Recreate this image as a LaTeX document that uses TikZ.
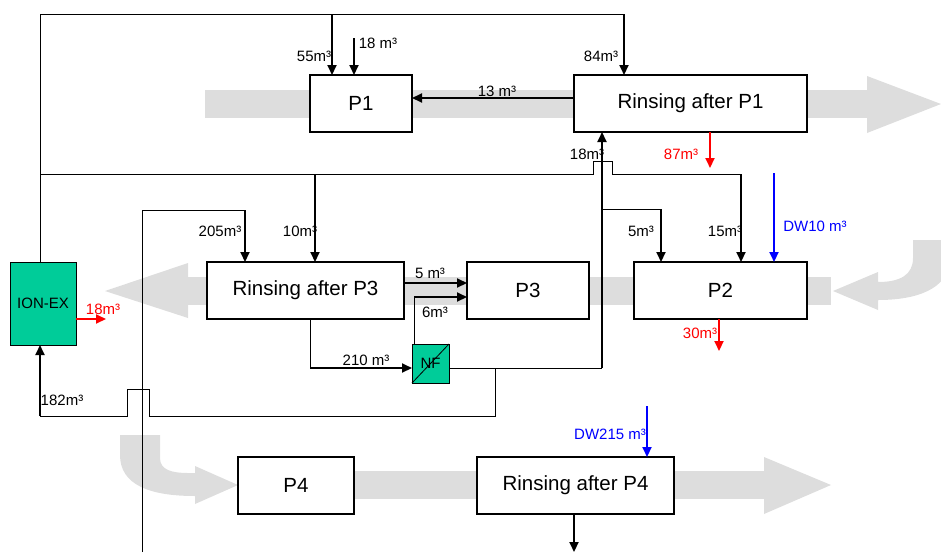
\documentclass[tikz,border=0pt]{standalone}
\usepackage{fontspec}
\setmainfont{Liberation Sans}
\usetikzlibrary{arrows.meta}
\definecolor{band}{RGB}{221,221,221}
\definecolor{unitfill}{RGB}{0,204,153}
\definecolor{dwblue}{RGB}{0,0,255}
\definecolor{outred}{RGB}{255,0,0}
\begin{document}
\begin{tikzpicture}[x=1pt,y=-1pt,
 box/.style={draw,line width=2pt,fill=white,inner sep=0pt,outer sep=0pt,font=\fontsize{20.5}{24}\selectfont},
 unit/.style={draw,line width=1pt,fill=unitfill,inner sep=0pt,outer sep=0pt,font=\fontsize{15}{18}\selectfont},
 route/.style={line width=1pt},
 arr/.style={line width=2pt,-{Triangle[length=10pt,width=9pt]}},
 lbl/.style={font=\fontsize{15}{17}\selectfont,inner sep=0pt}]
\useasboundingbox (0,0) rectangle (941,552);
\begin{scope}
\clip (0,0) rectangle (941,552);
% grey process bands
\fill[band] (205,90) rectangle (867,118);
\fill[band] (867,76) -- (941,104) -- (867,133) -- cycle;
\fill[band] (188,277) rectangle (831,305);
\fill[band] (188,263) -- (105,291) -- (188,318) -- cycle;
\fill[band] (913,240) -- (913,258) .. controls (913,275) and (900,282) .. (878,282) -- (878,272) -- (833,291) -- (878,310) -- (878,300) .. controls (915,300) and (948,290) .. (950,260) -- (950,240) -- cycle;
\fill[band] (354,471) rectangle (764,499);
\fill[band] (764,457) -- (831,485) -- (764,514) -- cycle;
\fill[band] (120,435) -- (160,435) -- (160,458) .. controls (160,470) and (172,473) .. (188,473) -- (195,473) -- (195,466) -- (238,485) -- (195,504) -- (195,496) .. controls (150,496) and (120,485) .. (120,455) -- cycle;
\end{scope}
% boxes
\node[box,minimum width=102pt,minimum height=57pt] (p1) at (361,103.5) {P1};
\node[box,minimum width=233pt,minimum height=57pt] (r1) at (690.5,103.5) {Rinsing after P1};
\node[box,minimum width=197pt,minimum height=57pt] (r3) at (305.5,290.5) {Rinsing after P3};
\node[box,minimum width=122pt,minimum height=57pt] (p3) at (528,290.5) {P3};
\node[box,minimum width=173pt,minimum height=57pt] (p2) at (720.5,290.5) {P2};
\node[box,minimum width=116pt,minimum height=57pt] (p4) at (296,485.5) {P4};
\node[box,minimum width=197pt,minimum height=57pt] (r4) at (575.5,485.5) {Rinsing after P4};
\node[unit,minimum width=66pt,minimum height=83pt] (ion) at (43,303.5) {ION-EX};
\node[unit,minimum width=37pt,minimum height=39pt] (nf) at (430.5,363.5) {NF};
\draw[line width=0.8pt] (nf.south west) -- (nf.north east);
% top frame
\coordinate (TL) at (40,14);
\coordinate (TR) at (624,14);
\coordinate (T55) at (332,14);
\coordinate (S18) at (354,38);
\draw[route] ([xshift=-3pt]ion.north) -- (TL) -- (TR);
\draw[arr] (TR) -- (TR |- r1.north);
\draw[arr] (T55) -- (T55 |- p1.north);
\draw[arr] (S18) -- (S18 |- p1.north);
\draw[arr] ([yshift=5.5pt]r1.west) -- ([yshift=5.5pt]p1.east);
\draw[arr,outred] ([xshift=19.5pt]r1.south) -- ++(0,36);
% middle line
\coordinate (ML) at (40,174);
\coordinate (M10) at (315,174);
\coordinate (M15) at (741,174);
\draw[route] (ML) -- (593,174) -- (593,161) -- (612,161) -- (612,174) -- (M15);
\draw[arr] (M10) -- (M10 |- r3.north);
\draw[arr] (M15) -- (M15 |- p2.north);
% NF permeate riser
\coordinate (NFo) at (602,368);
\coordinate (B5) at (602,209);
\coordinate (B5r) at (661,209);
\draw[route] ([yshift=-4.5pt]nf.east) -- (NFo);
\draw[arr] (NFo) -- (NFo |- r1.south);
\draw[route] (B5) -- (B5r);
\draw[arr] (B5r) -- (B5r |- p2.north);
% return to ION-EX
\coordinate (BR) at (495,368);
\coordinate (BL) at (40,416);
\draw[route] (BR) -- (495,416) -- (149,416) -- (149,389) -- (127,389) -- (127,416) -- (BL);
\draw[arr] (BL) -- (BL |- ion.south);
% long left riser
\coordinate (V0) at (142,552);
\coordinate (V1) at (142,210);
\coordinate (V2) at (245,210);
\draw[route] (V0) -- (V1) -- (V2);
\draw[arr] (V2) -- (V2 |- r3.north);
% P3 area
\coordinate (C210) at (310,368);
\draw[route] ([xshift=4.5pt]r3.south) -- (C210);
\draw[arr] (C210) -- ([yshift=-4.5pt]nf.west);
\draw[arr] ([yshift=7.5pt]r3.east) -- ([yshift=7.5pt]p3.west);
\coordinate (C6) at (414,297);
\draw[route] ([xshift=-16.5pt]nf.north) -- (C6);
\draw[arr] (C6) -- ([yshift=-6.5pt]p3.west);
% P2 in/out
\coordinate (DW10) at (774,173);
\draw[arr,dwblue] (DW10) -- (DW10 |- p2.north);
\draw[arr,outred] ([xshift=-1.5pt]p2.south) -- ++(0,32);
\draw[arr,outred] ([yshift=-15.5pt]ion.east) -- ++(30,0);
% P4 row
\coordinate (DW215) at (647,406);
\draw[arr,dwblue] (DW215) -- (DW215 |- r4.north);
\draw[arr] ([xshift=-1.5pt]r4.south) -- ++(0,38);
% labels
\node[lbl] (l55) at (314,56) {55m³};
\node[lbl] (l18a) at (378,43) {18 m³};
\node[lbl] (l84) at (601,56) {84m³};
\node[lbl] (l13) at (497,91) {13 m³};
\node[lbl,text=outred] (l87) at (681,154) {87m³};
\node[lbl] (l18b) at (587,154) {18m³};
\node[lbl] (l205) at (220,231) {205m³};
\node[lbl] (l10) at (300,231) {10m³};
\node[lbl] (l5a) at (430,273) {5 m³};
\node[lbl] (l6) at (435,312) {6m³};
\node[lbl] (l210) at (366,360) {210 m³};
\node[lbl,text=outred] (l18c) at (103,309) {18m³};
\node[lbl] (l182) at (62,400) {182m³};
\node[lbl] (l5b) at (641,231) {5m³};
\node[lbl] (l15) at (725,231) {15m³};
\node[lbl,text=dwblue] (ldw10) at (815,226) {DW10 m³};
\node[lbl,text=outred] (l30) at (700,333) {30m³};
\node[lbl,text=dwblue] (ldw215) at (610,434) {DW215 m³};
\end{tikzpicture}
\end{document}
